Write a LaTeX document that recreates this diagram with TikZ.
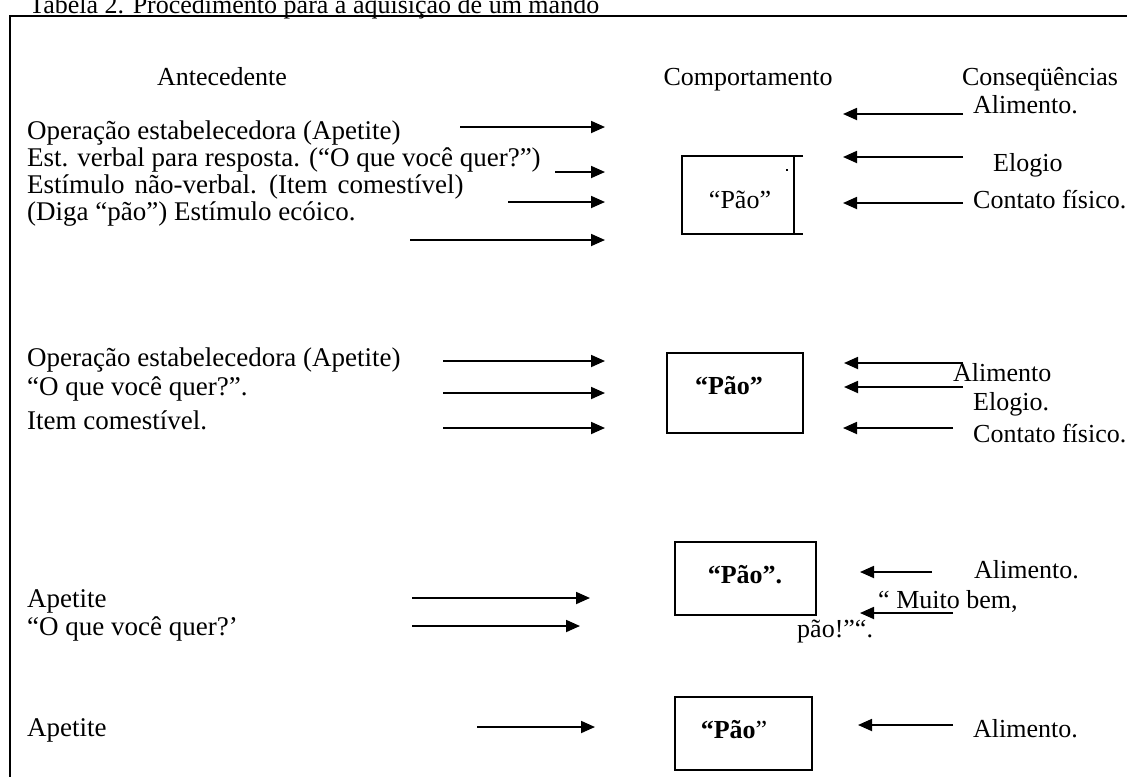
\documentclass[tikz,border=0pt]{standalone}
\usepackage{fontspec}
\setmainfont{Liberation Serif}
\usetikzlibrary{arrows.meta}
\begin{document}
\begin{tikzpicture}[x=1pt,y=-1pt,
  txt/.style={anchor=base west,inner sep=0pt,font=\fontsize{26}{30}\selectfont},
  ltxt/.style={anchor=base west,inner sep=0pt,font=\fontsize{27}{31}\selectfont},
  ctxt/.style={anchor=base,inner sep=0pt,font=\fontsize{26}{30}\selectfont},
  btxt/.style={anchor=base,inner sep=0pt,font=\fontsize{26}{30}\selectfont\bfseries},
  arr/.style={line width=1.8pt,-{Triangle[length=14pt,width=12pt]}},
  frame/.style={line width=2pt},
  box/.style={draw,line width=2pt,inner sep=0pt}]
\useasboundingbox (0,0) rectangle (1127,777);
% title and frame
\node[txt] (title) at (29,13) {Tabela 2. Procedimento para a aquisição de um mando};
\coordinate (fTL) at (10,16);
\coordinate (fTR) at (1127,16);
\coordinate (fBL) at (10,777);
\draw[frame] (fTR) -- (fTL) -- (fBL);
% headers
\node[ctxt] (hA) at (222,85) {Antecedente};
\node[ctxt] (hB) at (748,85) {Comportamento};
\node[ctxt] (hC) at (1040,85) {Conseqüências};
% ---------- section 1 ----------
\node[ltxt] (l11) at (27,139) {Operação estabelecedora (Apetite)};
\node[ltxt] (l12) at (27,166) {Est. verbal para resposta. (“O que você quer?”)};
\node[ltxt] (l13) at (27,193) {\spaceskip=10pt plus 1pt Estímulo não-verbal. (Item comestível)};
\node[ltxt] (l14) at (27,220) {(Diga “pão”) Estímulo ecóico.};
\coordinate (a11s) at (460,127); \coordinate (a11e) at (605,127);
\coordinate (a12s) at (555,172); \coordinate (a12e) at (605,172);
\coordinate (a13s) at (508,202); \coordinate (a13e) at (605,202);
\coordinate (a14s) at (410,240); \coordinate (a14e) at (605,240);
\draw[arr] (a11s) -- (a11e);
\draw[arr] (a12s) -- (a12e);
\draw[arr] (a13s) -- (a13e);
\draw[arr] (a14s) -- (a14e);
% box 1 (open-ended lines)
\coordinate (b1a) at (682,156); \coordinate (b1b) at (803,156);
\coordinate (b1c) at (682,234); \coordinate (b1d) at (803,234);
\coordinate (b1e) at (794,156); \coordinate (b1f) at (794,234);
\draw[line width=1.8pt] (b1b) -- (b1a) -- (b1c) -- (b1d);
\draw[line width=1.8pt] (b1e) -- (b1f);
\node[ctxt] (p1) at (740,208) {“Pão”};
\node[inner sep=0pt,minimum size=1.5pt,fill] (dot1) at (787,170) {};
\node[txt] (r11) at (973,113) {Alimento.};
\node[txt] (r12) at (993,171) {Elogio};
\node[txt] (r13) at (973,208) {Contato físico.};
\coordinate (c11s) at (963,114); \coordinate (c11e) at (843,114);
\coordinate (c12s) at (963,157); \coordinate (c12e) at (843,157);
\coordinate (c13s) at (963,203); \coordinate (c13e) at (843,203);
\draw[arr] (c11s) -- (c11e);
\draw[arr] (c12s) -- (c12e);
\draw[arr] (c13s) -- (c13e);
% ---------- section 2 ----------
\node[ltxt] (l21) at (27,366) {Operação estabelecedora (Apetite)};
\node[ltxt] (l22) at (27,395) {“O que você quer?”.};
\node[ltxt] (l23) at (27,429) {Item comestível.};
\coordinate (a21s) at (443,361); \coordinate (a21e) at (605,361);
\coordinate (a22s) at (443,393); \coordinate (a22e) at (605,393);
\coordinate (a23s) at (443,428); \coordinate (a23e) at (605,428);
\draw[arr] (a21s) -- (a21e);
\draw[arr] (a22s) -- (a22e);
\draw[arr] (a23s) -- (a23e);
\node[box,minimum width=136pt,minimum height=80pt] (b2) at (735,393) {};
\node[btxt] (p2) at (729,394) {“Pão”};
\node[txt] (r21) at (953,381) {Alimento};
\node[txt] (r22) at (973,410) {Elogio.};
\node[txt] (r23) at (973,442) {Contato físico.};
\coordinate (c21s) at (963,363); \coordinate (c21e) at (844,363);
\coordinate (c22s) at (963,387); \coordinate (c22e) at (844,387);
\coordinate (c23s) at (953,428); \coordinate (c23e) at (843,428);
\draw[arr] (c21s) -- (c21e);
\draw[arr] (c22s) -- (c22e);
\draw[arr] (c23s) -- (c23e);
% ---------- section 3 ----------
\node[ltxt] (l31) at (27,607) {Apetite};
\node[ltxt] (l32) at (27,635) {“O que você quer?’};
\coordinate (a31s) at (412,598); \coordinate (a31e) at (590,598);
\coordinate (a32s) at (412,626); \coordinate (a32e) at (580,626);
\draw[arr] (a31s) -- (a31e);
\draw[arr] (a32s) -- (a32e);
\node[box,minimum width=141pt,minimum height=73pt] (b3) at (745.5,578.5) {};
\node[btxt] (p3) at (745,583) {“Pão”.};
\node[txt] (r31) at (974,578) {Alimento.};
\node[txt] (r32) at (878,608) {“ Muito bem,};
\node[txt] (r33) at (797,637) {pão!”“.};
\coordinate (c31s) at (932,572); \coordinate (c31e) at (860,572);
\coordinate (c32s) at (953,613); \coordinate (c32e) at (860,613);
\draw[arr] (c31s) -- (c31e);
\draw[arr] (c32s) -- (c32e);
% ---------- section 4 ----------
\node[ltxt] (l41) at (27,736) {Apetite};
\coordinate (a41s) at (477,727); \coordinate (a41e) at (595,727);
\draw[arr] (a41s) -- (a41e);
\node[box,minimum width=137pt,minimum height=73pt] (b4) at (743.5,733.5) {};
\node[ctxt] (p4) at (734,738) {\textbf{“Pão}”};
\node[txt] (r41) at (973,737) {Alimento.};
\coordinate (c41s) at (953,725); \coordinate (c41e) at (858,725);
\draw[arr] (c41s) -- (c41e);
\end{tikzpicture}
\end{document}
